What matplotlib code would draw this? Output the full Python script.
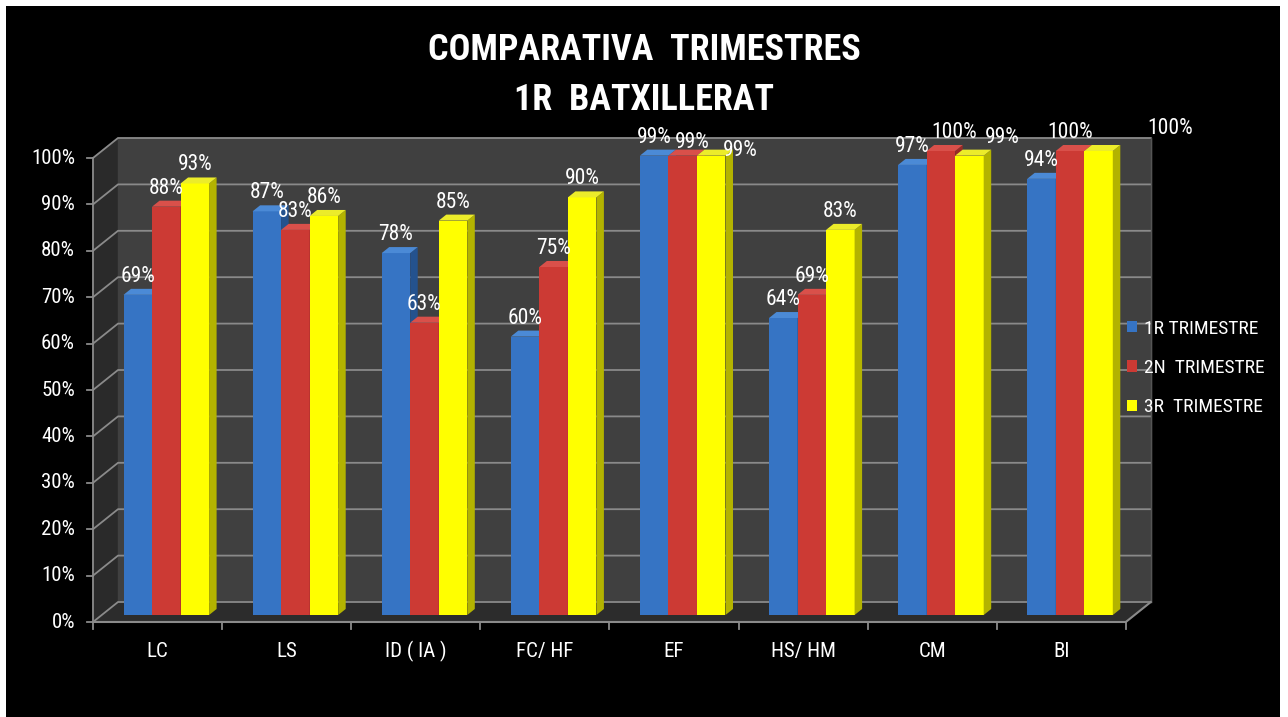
import matplotlib
matplotlib.use("Agg")
import matplotlib.pyplot as plt
from matplotlib.patches import Polygon
import numpy as np

# datos
materias = ["LC", "LS", "ID ( IA )", "FC/ HF", "EF", "HS/ HM", "CM", "BI"]
trim1 = [69, 87, 78, 60, 99, 64, 97, 94]
trim2 = [88, 83, 63, 75, 99, 69, 100, 100]
trim3 = [93, 86, 85, 90, 99, 83, 99, 100]
series = ["1R TRIMESTRE", "2N  TRIMESTRE", "3R  TRIMESTRE"]
yticks = np.arange(0, 101, 10)

# colores: frente, lado, arriba
colores = [("#3674c4", "#24528e", "#4b8ad6"),
           ("#cc3a34", "#982a26", "#d9504a"),
           ("#ffff00", "#b3b300", "#ecec2a")]

# desplazamiento de etiquetas solapadas (pixeles: dx, dy hacia abajo)
ajustes = {(1, 4): (10, 5), (2, 4): (29, 13),
           (1, 6): (13, 0), (2, 6): (33, 0),
           (2, 7): (72, -4)}

plt.rcParams['font.family'] = ['Liberation Sans Narrow', 'Roboto Condensed',
                               'DejaVu Sans Condensed', 'DejaVu Sans']
plt.rcParams['font.stretch'] = 'condensed'

W, H = 1288, 717
fig = plt.figure(figsize=(W / 100, H / 100), dpi=100, facecolor='white')

# escala en pixeles
PX_CAT = 129.1
PX_PCT = 4.64
X0, Y0 = 93, 622
left, top, right, bottom = 6, 6, 1280, 717
ax = fig.add_axes([left / W, 1 - bottom / H, (right - left) / W, (bottom - top) / H])
ax.set_facecolor('black')
ax.set_xlim((left - X0) / PX_CAT, (right - X0) / PX_CAT)
ax.set_ylim((Y0 - bottom) / PX_PCT, (Y0 - top) / PX_PCT)
ax.set_xticks([])
ax.set_yticks([])
for s in ax.spines.values():
    s.set_visible(False)

n = len(materias)
DX = 25 / PX_CAT    # profundidad
DY = 20 / PX_PCT

# paredes y suelo
ax.add_patch(Polygon([(0, 0), (DX, DY), (DX, 100 + DY), (0, 100)], color="#2a2a2a", zorder=1))
ax.add_patch(Polygon([(DX, DY), (n + DX, DY), (n + DX, 100 + DY), (DX, 100 + DY)], color="#404040", zorder=1))
ax.add_patch(Polygon([(0, 0), (n, 0), (n + DX, DY), (DX, DY)], color="#2c2c2c", zorder=1))

grid_c = "#8a8a8a"
for y in yticks:
    ax.plot([0, DX, n + DX], [y, y + DY, y + DY], color=grid_c, lw=1.3, zorder=2)
    ax.plot([-0.045, 0], [y, y], color=grid_c, lw=1.3, zorder=2)
    ax.text(-0.14, y, f"{y}%", ha='right', va='center', color='white', fontsize=15)
ax.plot([0, 0], [0, 100], color=grid_c, lw=1.3, zorder=2)
ax.plot([n + DX, n + DX], [DY, 100 + DY], color="#555555", lw=1, zorder=2)
ax.plot([0, n, n + DX], [0, 0, DY], color=grid_c, lw=1.5, zorder=3)
for k in range(n + 1):
    ax.plot([k, k], [0, -1.6], color=grid_c, lw=1.3, zorder=3)

for j, m in enumerate(materias):
    ax.text(j + 0.5, -6.3, m, ha='center', va='center', color='white', fontsize=15)

# barras 3D
w = 0.221
margin = (1 - 3 * w) / 2
F0, BD = 0.35, 0.30
base = F0 * DY
bdx, bdy = BD * DX, BD * DY

for i, vals in enumerate([trim1, trim2, trim3]):
    front, side, cap = colores[i]
    xs = np.arange(n) + margin + i * w + F0 * DX
    bars = ax.bar(xs, vals, width=w, bottom=base, align='edge', color=front,
                  label=series[i], linewidth=0)
    for j, (x, v) in enumerate(zip(xs, vals)):
        z = 10 + (j * 3 + i) * 3
        bars[j].set_zorder(z)
        x1 = x + w
        t = base + v
        ax.add_patch(Polygon([(x1, base), (x1 + bdx, base + bdy), (x1 + bdx, t + bdy), (x1, t)],
                             color=side, lw=0, zorder=z + 1))
        ax.add_patch(Polygon([(x, t), (x1, t), (x1 + bdx, t + bdy), (x + bdx, t + bdy)],
                             color=cap, lw=0, zorder=z + 2))
        ddx, ddy = ajustes.get((i, j), (0, 0))
        ax.text(x + w / 2 + ddx / PX_CAT, t + 4 - ddy / PX_PCT, f"{v}%", ha='center',
                va='center', color='white', fontsize=15.5, zorder=200)

ax.legend(loc='upper left', bbox_to_anchor=(1109 / W, 1 - 302 / H), bbox_transform=fig.transFigure,
          frameon=False, labelcolor='white', fontsize=14, handlelength=0.55, handleheight=0.55,
          handletextpad=0.35, labelspacing=1.1)

fig.text(0.5, 1 - 50 / H, "COMPARATIVA  TRIMESTRES", ha='center', va='center',
         color='white', fontsize=26, fontweight='bold')
fig.text(0.5, 1 - 100 / H, "1R  BATXILLERAT", ha='center', va='center',
         color='white', fontsize=26, fontweight='bold')

fig.savefig("out.png", dpi=100, facecolor='white')
